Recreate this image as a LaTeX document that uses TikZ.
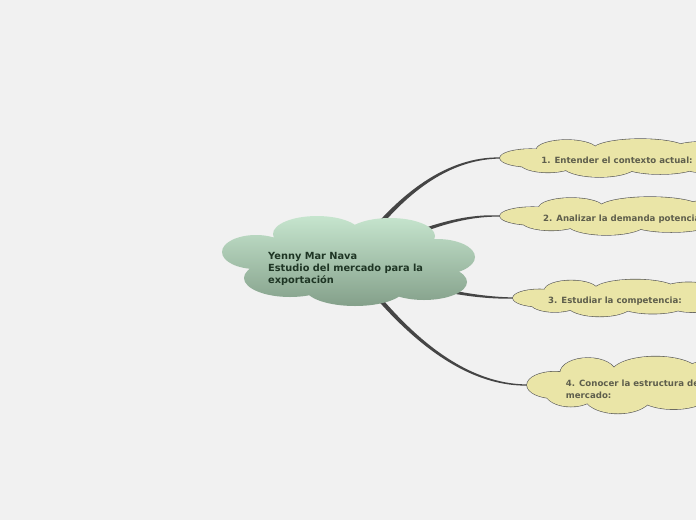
\documentclass[tikz,border=0pt]{standalone}
\usepackage{fontspec}
\setmainfont{DejaVu Sans}
\usetikzlibrary{calc}

\definecolor{bgc}{HTML}{F1F1F1}
\definecolor{hubtop}{HTML}{C6E5CE}
\definecolor{hubbot}{HTML}{84A08A}
\definecolor{hubtxt}{HTML}{1E3524}
\definecolor{leaffill}{HTML}{EAE5A7}
\definecolor{leafline}{HTML}{5A5A5A}
\definecolor{leaftxt}{HTML}{5E5E4C}
\definecolor{linkc}{HTML}{454545}

\pgfdeclarelayer{back}
\pgfdeclarelayer{links}
\pgfsetlayers{back,links,main}

\begin{document}
\begin{tikzpicture}[
      x=1pt, y=-1pt,
      hubtext/.style={anchor=north west, inner sep=0pt, align=left,
                      text=hubtxt, font=\bfseries\fontsize{9.8}{12}\selectfont},
      leaftext/.style={inner sep=0pt, align=left, text=leaftxt,
                       text height=10pt, text depth=0pt,
                       font=\bfseries\fontsize{8.6}{11.5}\selectfont},
      link/.style={fill=linkc},
      leafcloud/.pic={
        \path[fill=leaffill, preaction={draw=leafline, line width=1.2pt}]
          (-0.74,0) ellipse [x radius=0.26, y radius=0.47]
          (-0.43,-0.42) ellipse [x radius=0.26, y radius=0.53]
          (0.2,-0.42) ellipse [x radius=0.41, y radius=0.58]
          (0.72,-0.35) ellipse [x radius=0.28, y radius=0.5]
          (0.8,0) ellipse [x radius=0.2, y radius=0.45]
          (0.76,0.32) ellipse [x radius=0.24, y radius=0.45]
          (0.37,0.32) ellipse [x radius=0.34, y radius=0.53]
          (-0.15,0.37) ellipse [x radius=0.32, y radius=0.63]
          (-0.59,0.26) ellipse [x radius=0.24, y radius=0.5]
          (0,0) ellipse [x radius=0.85, y radius=0.6];
      }
    ]
    \useasboundingbox (0,0) rectangle (696,520);
    \clip (0,0) rectangle (696,520);
    \begin{pgfonlayer}{back}
      \fill[bgc] (0,0) rectangle (696,520);
    \end{pgfonlayer}

    \coordinate (core) at (350,262);
    % topic clouds
    \pic[xscale=117, yscale=19] at (617,158) {leafcloud};
    \pic[xscale=125, yscale=19] at (625,216) {leafcloud};
    \pic[xscale=102, yscale=18.5] at (615,298) {leafcloud};
    \pic[xscale=107, yscale=28.5] at (634,385) {leafcloud};
    \node[leaftext, minimum width=234pt, minimum height=38pt] (t1) at (617,158)
          {1. Entender el contexto actual:};
    \node[leaftext, minimum width=250pt, minimum height=38pt] (t2) at (625,216)
          {2. Analizar la demanda potencial:};
    \node[leaftext, minimum width=204pt, minimum height=37pt] (t3) at (615,298)
          {3. Estudiar la competencia:};
    \node[leaftext, text height=26pt, minimum width=214pt, minimum height=57pt] (t4) at (634,385)
          {4. Conocer la estructura del\\mercado:};

    % central cloud
    \shade[top color=hubtop, bottom color=hubbot]
          (256,252) ellipse [x radius=34pt, y radius=17pt]
          (317,234) ellipse [x radius=44pt, y radius=18pt]
          (390,236) ellipse [x radius=45pt, y radius=18pt]
          (437,257) ellipse [x radius=38pt, y radius=18pt]
          (424,282) ellipse [x radius=43pt, y radius=18pt]
          (355,288) ellipse [x radius=50pt, y radius=18pt]
          (290,278) ellipse [x radius=46pt, y radius=19pt]
          (348,262) ellipse [x radius=95pt, y radius=30pt];
    \node[hubtext] (hub) at (268,252)
          {Yenny Mar Nava\\Estudio del mercado para la\\exportación};

    % tapered links, thick at the centre
    \begin{pgfonlayer}{links}
    \fill[link] ($(core)+(2.3,1.6)$) .. controls ($(400,190)+(1.6,1.1)$) and ($(450,158)+(0,1.3)$) .. ($(t1.west)+(0,0.6)$)
          -- ($(t1.west)+(0,-0.6)$) .. controls ($(450,158)-(0,1.3)$) and ($(400,190)-(1.6,1.1)$) .. ($(core)-(2.3,1.6)$) -- cycle;
    \fill[link] ($(core)+(1.1,2.25)$) .. controls ($(420,228)+(0.84,1.7)$) and ($(460,215)+(0,1.3)$) .. ($(t2.west)+(0,0.6)$)
          -- ($(t2.west)+(0,-0.6)$) .. controls ($(460,215)-(0,1.3)$) and ($(420,228)-(0.84,1.7)$) .. ($(core)-(1.1,2.25)$) -- cycle;
    \fill[link] ($(core)+(-0.9,2.35)$) .. controls ($(430,292)+(-0.67,1.8)$) and ($(480,298)+(0,1.3)$) .. ($(t3.west)+(0,0.6)$)
          -- ($(t3.west)+(0,-0.6)$) .. controls ($(480,298)-(0,1.3)$) and ($(430,292)-(-0.67,1.8)$) .. ($(core)-(-0.9,2.35)$) -- cycle;
    \fill[link] ($(core)+(-2,1.5)$) .. controls ($(400,330)+(-1.55,1.15)$) and ($(460,385)+(0,1.3)$) .. ($(t4.west)+(0,0.6)$)
          -- ($(t4.west)+(0,-0.6)$) .. controls ($(460,385)-(0,1.3)$) and ($(400,330)-(-1.55,1.15)$) .. ($(core)-(-2,1.5)$) -- cycle;
    \end{pgfonlayer}
  \end{tikzpicture}
\end{document}
